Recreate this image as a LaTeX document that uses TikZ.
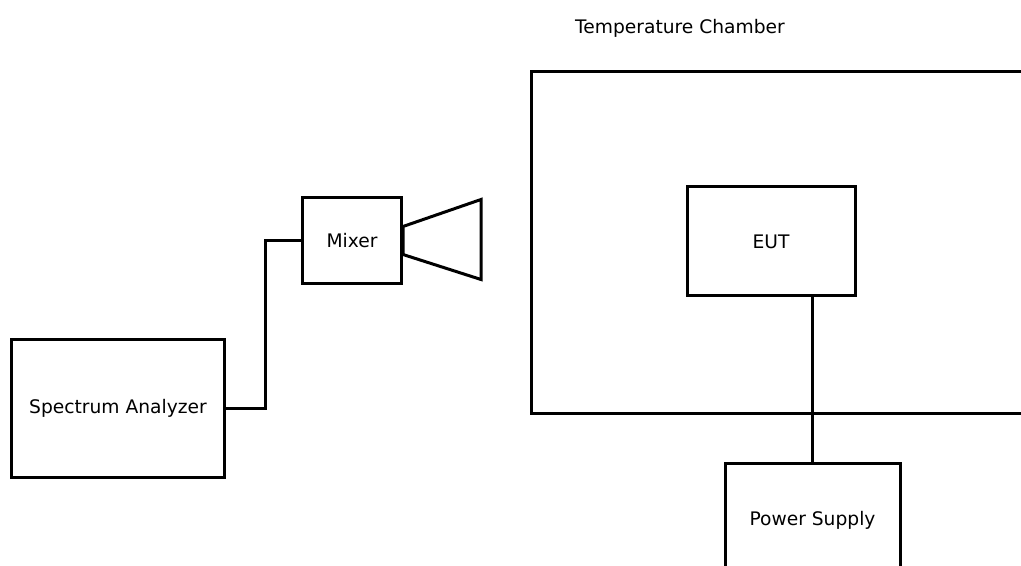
\documentclass[tikz,border=0pt]{standalone}
\usepackage{fontspec}
\setmainfont{DejaVu Sans}
\usepackage{tikz}
\usetikzlibrary{positioning,calc}

\begin{document}
\begin{tikzpicture}[x=0.75pt, y=-0.75pt, line width=2.25pt, box/.style={draw, line width=2.25pt, inner sep=0pt, align=center, font=\fontsize{14}{16}\selectfont}, wire/.style={draw, line width=2.25pt}]
\clip (0,0) rectangle (1021,566);
\fill[white] (0,0) rectangle (1021,566);
% instruments
\node[box, minimum width=213*0.75pt, minimum height=137*0.75pt] (sa) at (118,408.5) {Spectrum Analyzer};
\node[box, minimum width=99*0.75pt, minimum height=86*0.75pt] (mixer) at (352,240.5) {Mixer};
\node[box, minimum width=500*0.75pt, minimum height=342*0.75pt] (chamber) at (781,243) {};
\node[font=\fontsize{14}{16}\selectfont] (chamberlbl) at (680,28) {Temperature Chamber};
\node[box, minimum width=168*0.75pt, minimum height=109*0.75pt] (eut) at (771,241.5) {EUT};
\node[box, minimum width=175*0.75pt, minimum height=114*0.75pt] (ps) at (812.5,520) {Power Supply};
% horn antenna on the mixer
\coordinate (h1) at ($(mixer.east)+(0,-14)$);
\coordinate (h2) at ($(mixer.east)+(78,-41)$);
\coordinate (h3) at ($(mixer.east)+(78,39)$);
\coordinate (h4) at ($(mixer.east)+(0,14)$);
\draw[line join=miter] (h1) -- (h2) -- (h3) -- (h4) -- cycle;
% cables
\draw[wire] (sa.east) -- ++(39,0) |- (mixer.west);
\draw[wire] (ps.north) -- (ps.north |- eut.south);
\end{tikzpicture}
\end{document}
